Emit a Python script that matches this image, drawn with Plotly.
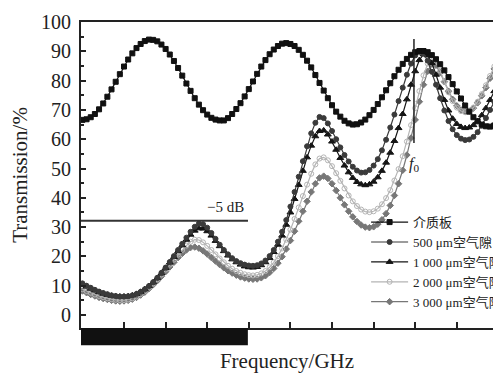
import plotly.graph_objects as go

# frequency axis in tick units (tick labels hidden in the reference)
freq = [round(i * 0.1, 1) for i in range(100)]

slab = [66.6, 66.8, 67.5, 68.6, 70.2, 72.2, 74.5, 77.0, 79.6, 82.2,
        84.8, 87.2, 89.3, 91.1, 92.5, 93.5, 94.0, 93.9, 93.4, 92.3,
        90.8, 88.9, 86.7, 84.3, 81.7, 79.0, 76.5, 74.0, 71.8, 69.9,
        68.4, 67.3, 66.7, 66.4, 66.4, 67.2, 68.6, 70.3, 72.3, 74.6,
        77.1, 79.7, 82.3, 84.8, 87.0, 89.0, 90.6, 91.8, 92.6, 92.8,
        92.5, 91.8, 90.5, 88.8, 86.8, 84.5, 81.9, 79.2, 76.6, 74.0,
        71.6, 69.4, 67.7, 66.3, 65.4, 65.0, 65.1, 65.7, 66.7, 68.2,
        70.0, 72.0, 74.3, 76.7, 79.1, 81.5, 83.7, 85.7, 87.4, 88.8,
        89.7, 90.1, 90.1, 89.7, 88.7, 87.3, 85.6, 83.5, 81.2, 78.8,
        76.3, 73.9, 71.5, 69.4, 67.5, 66.1, 65.0, 64.4, 64.3, 64.7]

gap500 = [10.8, 10.0, 9.3, 8.6, 8.0, 7.5, 7.1, 6.7, 6.5, 6.3,
          6.3, 6.4, 6.7, 7.2, 7.9, 8.8, 9.9, 11.2, 12.7, 14.4,
          16.2, 18.1, 20.1, 22.2, 24.3, 26.4, 28.4, 30.1, 31.2, 31.0,
          29.8, 28.0, 26.0, 24.0, 22.2, 20.7, 19.4, 18.4, 17.7, 17.2,
          16.9, 16.8, 17.0, 17.6, 18.6, 20.1, 22.2, 25.0, 28.4, 32.4,
          37.0, 42.0, 47.2, 52.5, 57.6, 62.0, 65.6, 67.6, 67.2, 65.4,
          62.8, 60.0, 57.2, 54.6, 52.4, 50.6, 49.3, 48.6, 48.7, 49.5,
          51.0, 53.2, 56.2, 59.8, 64.0, 68.4, 73.0, 77.6, 82.0, 85.8,
          88.6, 89.8, 89.2, 86.8, 83.0, 78.6, 74.0, 69.8, 66.2, 63.4,
          61.4, 60.2, 59.7, 59.9, 60.8, 62.4, 64.6, 67.2, 70.0, 72.8]

gap1000 = [10.4, 9.7, 9.0, 8.4, 7.8, 7.3, 6.9, 6.6, 6.4, 6.3,
           6.3, 6.4, 6.7, 7.2, 7.9, 8.8, 9.9, 11.1, 12.6, 14.2,
           16.0, 17.9, 19.8, 21.8, 23.8, 25.7, 27.4, 28.8, 29.6, 29.5,
           28.6, 27.1, 25.3, 23.5, 21.8, 20.3, 19.0, 18.0, 17.2, 16.6,
           16.3, 16.2, 16.4, 17.0, 18.0, 19.5, 21.5, 24.0, 27.1, 30.8,
           35.0, 39.6, 44.4, 49.2, 53.8, 57.8, 61.0, 62.8, 63.0, 61.6,
           59.2, 56.4, 53.6, 51.0, 48.7, 46.8, 45.4, 44.6, 44.3, 44.6,
           45.5, 47.0, 49.2, 52.0, 55.4, 59.4, 63.8, 68.6, 73.6, 78.6,
           83.2, 87.0, 89.0, 88.6, 86.0, 82.0, 77.6, 73.4, 69.8, 67.0,
           65.2, 64.2, 63.8, 64.0, 64.8, 66.2, 68.2, 70.6, 73.4, 76.4]

gap2000 = [8.8, 8.2, 7.6, 7.0, 6.5, 6.1, 5.7, 5.4, 5.2, 5.1,
           5.1, 5.3, 5.7, 6.3, 7.1, 8.1, 9.3, 10.7, 12.2, 13.8,
           15.5, 17.2, 18.9, 20.6, 22.2, 23.7, 25.0, 25.7, 25.6, 24.8,
           23.6, 22.2, 20.7, 19.3, 18.0, 16.8, 15.8, 15.0, 14.4, 13.9,
           13.6, 13.5, 13.7, 14.2, 15.0, 16.3, 18.0, 20.1, 22.7, 25.7,
           29.1, 32.8, 36.7, 40.6, 44.5, 48.2, 51.4, 53.4, 53.8, 52.8,
           50.8, 48.4, 45.8, 43.2, 40.8, 38.8, 37.2, 36.0, 35.3, 35.1,
           35.4, 36.3, 37.8, 39.9, 42.6, 45.9, 49.8, 54.2, 59.2, 64.8,
           70.6, 76.4, 81.8, 85.8, 87.4, 86.4, 83.4, 79.6, 76.0, 73.0,
           70.8, 69.6, 69.2, 69.6, 70.8, 72.8, 75.4, 78.4, 81.6, 84.8]

gap3000 = [8.2, 7.6, 7.0, 6.5, 6.0, 5.6, 5.3, 5.0, 4.8, 4.7,
           4.8, 5.0, 5.4, 6.0, 6.8, 7.8, 9.0, 10.3, 11.7, 13.2,
           14.8, 16.4, 18.0, 19.6, 21.0, 22.2, 23.0, 23.2, 22.8, 21.9,
           20.8, 19.6, 18.4, 17.2, 16.1, 15.1, 14.3, 13.6, 13.0, 12.6,
           12.3, 12.2, 12.3, 12.7, 13.4, 14.5, 15.9, 17.7, 19.9, 22.5,
           25.4, 28.6, 32.0, 35.4, 38.8, 42.0, 44.8, 46.8, 47.4, 46.6,
           44.8, 42.5, 40.0, 37.6, 35.4, 33.5, 31.9, 30.7, 30.0, 29.8,
           30.1, 31.0, 32.5, 34.6, 37.4, 40.8, 44.8, 49.4, 54.6, 60.4,
           66.6, 72.8, 78.6, 83.2, 85.6, 85.2, 82.8, 79.6, 76.4, 73.6,
           71.4, 70.0, 69.4, 69.6, 70.6, 72.4, 74.8, 77.6, 80.8, 84.0]

names = ["介质板", "500 μm空气隙", "1 000 μm空气隙", "2 000 μm空气隙", "3 000 μm空气隙"]
series = [slab, gap500, gap1000, gap2000, gap3000]
colors = ["#111111", "#3a3a3a", "#151515", "#b4b4b4", "#777777"]
symbols = ["square", "circle", "triangle-up", "circle-open", "diamond"]
msizes = [5, 5, 6, 5, 5]

yticks = list(range(0, 101, 10))
xticks = list(range(1, 10))

SERIF = "Liberation Serif, Times New Roman, Noto Sans CJK SC, serif"

fig = go.Figure()
order = [4, 3, 2, 1, 0]
for i in order:
    fig.add_trace(go.Scatter(
        x=freq, y=series[i], name=names[i], mode="lines+markers",
        line=dict(color=colors[i], width=1.2),
        marker=dict(symbol=symbols[i], size=msizes[i], color=colors[i],
                    line=dict(color=colors[i], width=1)),
        legendrank=i + 1,
    ))

XMIN, XMAX = -0.034, 9.87
YMIN, YMAX = -4.43, 100

fig.update_layout(
    width=493, height=374,
    margin=dict(l=81, r=0, t=22, b=46, autoexpand=False),
    paper_bgcolor="white", plot_bgcolor="white",
    font=dict(family=SERIF, color="#222222"),
    showlegend=True,
    legend=dict(x=0.692, y=0.395, xanchor="left", yanchor="top",
                bgcolor="rgba(0,0,0,0)", font=dict(size=13, family=SERIF, color="#222"),
                itemwidth=37, tracegroupgap=0, traceorder="normal"),
    xaxis=dict(range=[XMIN, XMAX], tickvals=xticks, showticklabels=False,
               ticks="inside", ticklen=6, tickwidth=1.5, tickcolor="#222",
               showline=True, linecolor="#222", linewidth=2, mirror=True,
               showgrid=False, zeroline=False,
               title=dict(text="Frequency/GHz", font=dict(size=21, family=SERIF, color="#222"),
                          standoff=24)),
    yaxis=dict(range=[YMIN, YMAX], tickvals=yticks, ticks="inside", ticklen=5,
               tickwidth=1.5, tickcolor="#222",
               minor=dict(dtick=5, tick0=0, ticks="inside", ticklen=3, tickcolor="#222"),
               showline=True, linecolor="#222", linewidth=2, mirror=False,
               showgrid=False, zeroline=False,
               tickfont=dict(size=20, family=SERIF, color="#222"),
               ticklabelstandoff=4,
               title=dict(text="Transmission/%", font=dict(size=21, family=SERIF, color="#222"),
                          standoff=8)),
)

# -5 dB reference line
fig.add_shape(type="line", xref="x", yref="y", x0=XMIN, x1=3.98, y0=32.2, y1=32.2,
              line=dict(color="#333", width=2))
fig.add_annotation(x=3.45, y=36.8, xref="x", yref="y", text="−5 dB", showarrow=False,
                   font=dict(size=15, family=SERIF, color="#222"))
# f0 marker line
fig.add_shape(type="line", xref="x", yref="y", x0=7.97, x1=7.97, y0=58.7, y1=94.2,
              line=dict(color="#222", width=1.5))
fig.add_annotation(x=7.97, y=51.5, xref="x", yref="y", text="<i>f</i><sub>0</sub>",
                   showarrow=False, font=dict(size=16, family=SERIF, color="#222"))
# black bar covering the tick labels
fig.add_shape(type="rect", xref="paper", yref="paper", x0=0, x1=0.405, y0=-0.056, y1=0,
              fillcolor="#111", line=dict(width=0), layer="above")

fig.write_html("out.html")
